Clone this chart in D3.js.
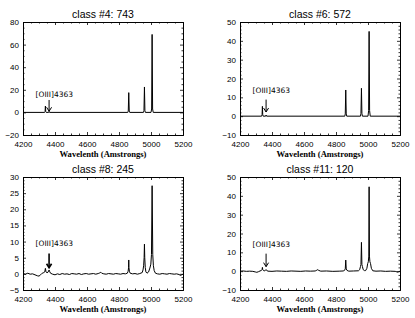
<!DOCTYPE html>
<html><head><meta charset="utf-8">
<script src="https://cdn.jsdelivr.net/npm/d3@7/dist/d3.min.js"></script>
<style>
html,body{margin:0;padding:0;background:#fff;}
svg{display:block;}
.tick text{font-family:"Liberation Sans",sans-serif;font-size:8px;fill:#000;}
</style></head>
<body>
<script>
// ---------------- data ----------------
const titles = ["class #4: 743", "class #6: 572", "class #8: 245", "class #11: 120"];
const xLabel = "Wavelenth (Amstrongs)";
const annotation = "[OIII]4363";
const xTicks = [4200, 4400, 4600, 4800, 5000, 5200];
const xMinorStep = 50;
const yDomains = [[-20, 80], [-10, 50], [-5, 30], [-10, 50]];
const yTicks = [
  [-20, 0, 20, 40, 60, 80],
  [-10, 0, 10, 20, 30, 40, 50],
  [-5, 0, 5, 10, 15, 20, 25, 30],
  [-10, 0, 10, 20, 30, 40, 50]
];
const yMinorSteps = [5, 2, 1, 2];
// arrow: [wavelength, top value, tip value, label baseline value]
const arrows = [
  [4363, 11, 1.0, 13.5],
  [4363, 8.8, 2.2, 12.5],
  [4363, 6.3, 1.9, 8.7],
  [4363, 9.3, 2.4, 13.0]
];

// spectra: [wavelength, flux]
const spec4 = [
  [4200,0],[4250,0],[4300,0],[4335,0],[4338,0.8],[4340,5.6],[4342,0.8],[4345,0],
  [4360,0],[4363,0.8],[4366,0],[4500,0],[4700,0],
  [4855,0],[4858,1.2],[4861,17.5],[4864,1.2],[4867,0],
  [4953,0],[4956,1.5],[4959,22.5],[4962,1.5],[4965,0],
  [5000,0],[5004,3],[5007,69],[5010,3],[5014,0],[5200,0]
];
const spec6 = [
  [4200,0],[4250,0],[4300,0],[4335,0],[4338,0.8],[4340,5.2],[4342,0.8],[4345,0],
  [4360,0],[4363,0.6],[4366,0],[4500,0],[4700,0],
  [4855,0],[4858,1.2],[4861,13.9],[4864,1.2],[4867,0],
  [4953,0],[4956,1.5],[4959,14.8],[4962,1.5],[4965,0],
  [5000,0],[5004,3],[5007,45],[5010,3],[5014,0],[5200,0]
];
const spec8 = [
  [4200,0.1],[4215,-0.1],[4230,0.2],[4245,-0.1],[4260,0.0],[4275,-0.3],[4290,-0.6],[4300,-0.7],
  [4310,-0.3],[4320,0.2],[4330,0.4],[4336,0.6],[4340,1.7],[4344,0.6],[4350,0.3],[4356,0.5],
  [4360,0.9],[4363,1.2],[4366,0.8],[4372,0.2],[4385,-0.1],[4400,-0.3],[4415,0.0],[4430,-0.2],
  [4445,0.1],[4460,-0.1],[4475,0.0],[4490,-0.2],[4505,0.1],[4520,0.0],[4535,-0.1],[4550,0.1],
  [4565,-0.2],[4580,0.0],[4595,0.1],[4610,-0.1],[4625,0.0],[4640,0.1],[4655,-0.1],[4670,0.1],
  [4680,0.3],[4686,0.5],[4692,0.2],[4705,0.0],[4720,-0.1],[4735,0.1],[4750,0.0],[4765,-0.1],
  [4780,0.1],[4795,0.0],[4810,-0.1],[4825,0.1],[4840,0.0],[4852,0.2],[4857,0.8],[4860,2.0],
  [4861,4.3],[4862,2.0],[4865,0.8],[4870,0.2],[4885,0.0],[4900,0.1],[4915,-0.1],[4930,0.1],
  [4945,0.4],[4950,1.2],[4954,2.5],[4957,5],[4959,9.2],[4961,5],[4964,2.0],[4968,0.6],
  [4975,0.2],[4985,0.6],[4993,1.8],[4999,3.0],[5003,6],[5007,27.3],[5011,6],[5015,2.5],
  [5020,1.0],[5028,0.2],[5040,0.0],[5055,-0.1],[5070,0.1],[5085,0.0],[5100,-0.1],[5115,0.1],
  [5130,0.0],[5145,-0.1],[5160,0.0],[5175,-0.2],[5185,-0.5],[5192,-0.3],[5200,-0.1]
];
const spec11 = [
  [4200,0.0],[4220,0.1],[4240,-0.1],[4260,0.0],[4280,-0.1],[4295,-0.4],[4305,-0.6],[4315,-0.3],
  [4325,0.1],[4334,0.4],[4338,0.9],[4340,2.0],[4342,0.9],[4347,0.3],[4355,0.2],[4360,0.5],
  [4363,0.8],[4366,0.4],[4375,0.0],[4400,-0.1],[4430,0.1],[4460,0.0],[4490,-0.1],[4520,0.1],
  [4550,0.0],[4580,-0.1],[4610,0.1],[4640,0.0],[4670,0.1],[4680,0.5],[4686,0.8],[4692,0.4],
  [4705,0.0],[4740,0.1],[4780,-0.1],[4820,0.0],[4845,0.1],[4853,0.4],[4858,1.2],[4861,5.9],
  [4864,1.2],[4869,0.4],[4880,0.0],[4910,0.1],[4940,0.2],[4948,0.8],[4953,2.5],[4956,3.5],
  [4959,15.3],[4962,3.5],[4965,2.5],[4970,0.8],[4978,0.3],[4985,0.3],[4993,1.5],[4998,4],
  [5002,5],[5005,8],[5007,44.8],[5009,8],[5012,5],[5016,4],[5021,1.5],[5030,0.2],
  [5050,0.0],[5080,0.1],[5110,-0.1],[5140,0.0],[5170,-0.1],[5185,-0.5],[5192,-0.3],[5200,0.0]
];
const spectra = [spec4, spec6, spec8, spec11];

// ---------------- layout ----------------
const W = 415, H = 318;
const frames = [
  {x0: 23, x1: 183, y0: 22, y1: 135},
  {x0: 240, x1: 400, y0: 22, y1: 135},
  {x0: 23, x1: 183, y0: 177, y1: 290},
  {x0: 240, x1: 400, y0: 177, y1: 290}
];
const svg = d3.select("body").append("svg").attr("width", W).attr("height", H);

function minors(domain, step, majors) {
  const out = [];
  const n = Math.round((domain[1] - domain[0]) / step);
  for (let i = 0; i <= n; i++) {
    const v = domain[0] + i * step;
    if (!majors.some(m => Math.abs(m - v) < 1e-9)) out.push(v);
  }
  return out;
}

frames.forEach((f, i) => {
  const x = d3.scaleLinear().domain([xTicks[0], xTicks[xTicks.length - 1]]).range([f.x0, f.x1]);
  const y = d3.scaleLinear().domain(yDomains[i]).range([f.y1, f.y0]);
  const g = svg.append("g");
  const xMin = minors(x.domain(), xMinorStep, xTicks);
  const yMin = minors(yDomains[i], yMinorSteps[i], yTicks[i]);

  // bottom axis
  g.append("g").attr("transform", `translate(0,${f.y1})`)
    .call(d3.axisBottom(x).tickValues(xTicks).tickSizeInner(-3).tickSizeOuter(0).tickPadding(6).tickFormat(d3.format("d")));
  g.append("g").attr("transform", `translate(0,${f.y1})`)
    .call(d3.axisBottom(x).tickValues(xMin).tickSizeInner(-1.5).tickSizeOuter(0).tickFormat(""));
  // top axis
  g.append("g").attr("transform", `translate(0,${f.y0})`)
    .call(d3.axisTop(x).tickValues(xTicks).tickSizeInner(-3).tickSizeOuter(0).tickFormat(""));
  g.append("g").attr("transform", `translate(0,${f.y0})`)
    .call(d3.axisTop(x).tickValues(xMin).tickSizeInner(-1.5).tickSizeOuter(0).tickFormat(""));
  // left axis
  g.append("g").attr("transform", `translate(${f.x0},0)`)
    .call(d3.axisLeft(y).tickValues(yTicks[i]).tickSizeInner(-3).tickSizeOuter(0).tickPadding(4).tickFormat(d3.format("d")));
  g.append("g").attr("transform", `translate(${f.x0},0)`)
    .call(d3.axisLeft(y).tickValues(yMin).tickSizeInner(-1.5).tickSizeOuter(0).tickFormat(""));
  // right axis
  g.append("g").attr("transform", `translate(${f.x1},0)`)
    .call(d3.axisRight(y).tickValues(yTicks[i]).tickSizeInner(-3).tickSizeOuter(0).tickFormat(""));
  g.append("g").attr("transform", `translate(${f.x1},0)`)
    .call(d3.axisRight(y).tickValues(yMin).tickSizeInner(-1.5).tickSizeOuter(0).tickFormat(""));

  g.selectAll(".domain").attr("stroke", "#000").attr("stroke-width", 1);
  g.selectAll(".tick line").attr("stroke", "#000").attr("stroke-width", 0.8);

  // spectrum
  const line = d3.line().x(d => x(d[0])).y(d => y(d[1]));
  g.append("path").datum(spectra[i]).attr("d", line)
    .attr("fill", "none").attr("stroke", "#000").attr("stroke-width", 1)
    .attr("stroke-linejoin", "miter");

  // title
  g.append("text").attr("x", (f.x0 + f.x1) / 2).attr("y", f.y0 - 4)
    .attr("text-anchor", "middle").attr("font-family", "Liberation Sans, sans-serif")
    .attr("font-size", 10.5).text(titles[i]);
  // x label
  g.append("text").attr("x", (f.x0 + f.x1) / 2).attr("y", f.y1 + 21.5)
    .attr("text-anchor", "middle").attr("font-family", "Liberation Serif, serif")
    .attr("font-weight", "bold").attr("font-size", 8.6).text(xLabel);

  // annotation arrow
  const a = arrows[i];
  const ax = x(a[0]), ay0 = y(a[1]), ay1 = y(a[2]);
  const sw = i === 2 ? 1.6 : 1;
  g.append("line").attr("x1", ax).attr("x2", ax).attr("y1", ay0).attr("y2", ay1)
    .attr("stroke", "#000").attr("stroke-width", sw);
  g.append("path").attr("d", `M${ax - 2.5},${ay1 - 4}L${ax},${ay1}L${ax + 2.5},${ay1 - 4}`)
    .attr("fill", "none").attr("stroke", "#000").attr("stroke-width", sw);
  g.append("text").attr("x", ax - 13.5).attr("y", y(a[3]))
    .attr("font-family", "DejaVu Sans, sans-serif").attr("font-size", 7.5).text(annotation);
});
</script>
</body></html>
